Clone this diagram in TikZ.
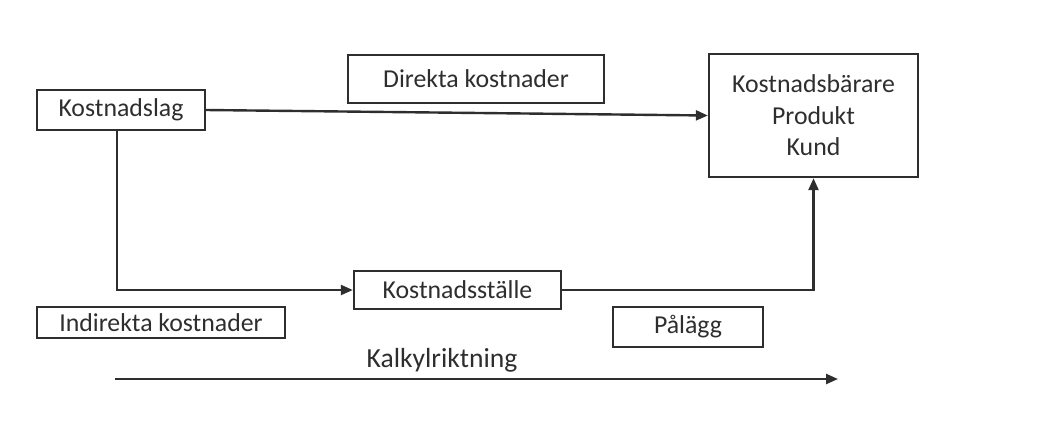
\documentclass[tikz,border=0pt]{standalone}
\usepackage{fontspec}
\setmainfont{Carlito}
\usetikzlibrary{arrows.meta}
\definecolor{ink}{HTML}{2E2E2E}
\tikzset{
  box/.style={draw=ink,line width=1.2pt,inner sep=0pt,align=center,text=ink,
    font=\fontsize{12.9}{15.75}\selectfont},
  flow/.style={draw=ink,line width=1.2pt,-{Triangle[length=6pt,width=5pt]}}
}
\begin{document}
\begin{tikzpicture}[x=0.5pt,y=-0.5pt]
\useasboundingbox (0,0) rectangle (1037,424);
\node[box,minimum width=84pt,minimum height=20pt] (lag) at (121,110) {Kostnadslag};
\node[box,minimum width=128pt,minimum height=24pt] (direkt) at (476,79) {Direkta kostnader};
\node[box,minimum width=104.5pt,minimum height=61.5pt] (barare) at (813.5,115.5) {Kostnadsbärare\\Produkt\\Kund};
\node[box,minimum width=103.5pt,minimum height=19pt] (stalle) at (457.5,290) {Kostnadsställe};
\node[box,minimum width=124pt,minimum height=15.5pt] (indirekt) at (161,322.5) {Indirekta kostnader};
\node[box,minimum width=75pt,minimum height=20pt] (palagg) at (688,327) {Pålägg};
\node[box,draw=none,font=\fontsize{13.8}{16}\selectfont] (kalkyl) at (442,360) {Kalkylriktning};
\coordinate (k1) at (115,379);
\coordinate (k2) at (838,379);
\draw[flow] (lag.east) -- (barare.west);
\draw[flow] ([xshift=-2pt]lag.south) |- (stalle.west);
\draw[flow] (stalle.east) -| (barare.south);
\draw[flow] (k1) -- (k2);
\end{tikzpicture}
\end{document}
